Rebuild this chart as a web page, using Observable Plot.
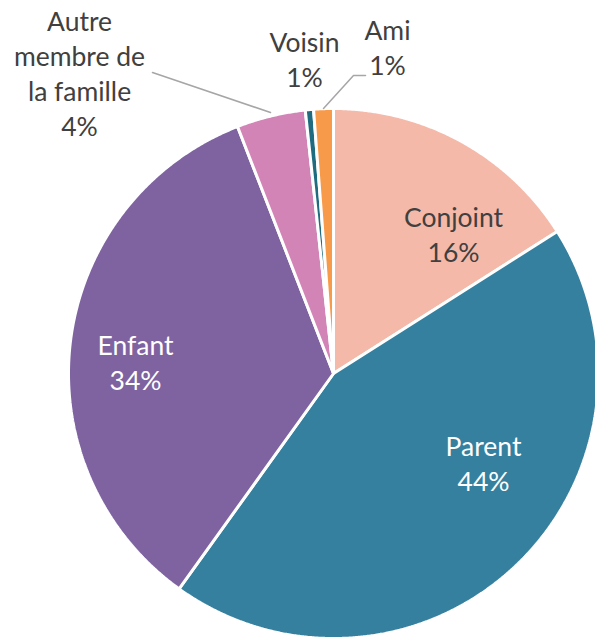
<!DOCTYPE html>
<html><head><meta charset="utf-8">
<script src="https://cdn.jsdelivr.net/npm/d3@7"></script>
<script src="https://cdn.jsdelivr.net/npm/@observablehq/plot@0.6"></script>
<style>html,body{margin:0;padding:0;background:#fff;overflow:hidden}</style>
</head><body><div id="chart"></div>
<script>
// ---- data ----
const categories = ["Conjoint", "Parent", "Enfant", "Autre membre de la famille", "Voisin", "Ami"];
const shares = [16.0, 43.9, 34.2, 4.2, 0.5, 1.2];
const pctLabels = ["16%", "44%", "34%", "4%", "1%", "1%"];
const labelLines = ["Conjoint", "Parent", "Enfant", "Autre\nmembre de\nla famille", "Voisin", "Ami"];

// ---- style / layout ----
const colors = ["#F4B9A9", "#35809F", "#7E63A0", "#D384B6", "#1F6B80", "#F79A4A"];
const textColors = ["#404040", "#ffffff", "#ffffff", "#404040", "#404040", "#404040"];
const W = 595, H = 640, CX = 333, CY = 373, R = 265;
// label block centres in pixels
const labelPos = [[453, 233], [483, 462], [135, 361], [79, 72], [304, 58], [387, 46]];
// leader lines in pixels
const leaders = [
  [[152, 72], [270, 112]],
  [[323, 108], [353, 75], [365, 75]]
];
const toX = px => (px - CX) / R;
const toY = py => (CY - py) / R;

// ---- geometry through d3.pie ----
const arcs = d3.pie().sort(null).value(d => d)(shares);
const pts = [];
arcs.forEach((a, i) => {
  const cat = categories[i];
  pts.push({cat, x: 0, y: 0});
  const n = Math.max(2, Math.ceil((a.endAngle - a.startAngle) / 0.005));
  for (let k = 0; k <= n; k++) {
    const t = a.startAngle + (a.endAngle - a.startAngle) * k / n;
    pts.push({cat, x: Math.sin(t), y: Math.cos(t)});
  }
});

const labels = categories.map((c, i) => ({
  cat: c,
  text: labelLines[i] + "\n" + pctLabels[i],
  x: toX(labelPos[i][0]),
  y: toY(labelPos[i][1]),
  color: textColors[i]
}));

const leaderPts = leaders.flatMap((l, j) => l.map(p => ({id: j, x: toX(p[0]), y: toY(p[1])})));

const chart = Plot.plot({
  width: W, height: H,
  marginTop: 0, marginRight: 0, marginBottom: 0, marginLeft: 0,
  x: {domain: [toX(0), toX(W)], range: [0, W], axis: null},
  y: {domain: [toY(H), toY(0)], range: [H, 0], axis: null},
  color: {domain: categories, range: colors},
  style: {fontFamily: "Lato, 'Open Sans', sans-serif", background: "#fff"},
  marks: [
    Plot.line(pts, {x: "x", y: "y", z: "cat", fill: "cat", stroke: "#ffffff", strokeWidth: 3, curve: "linear-closed", strokeLinejoin: "miter"}),
    Plot.line(leaderPts, {x: "x", y: "y", z: "id", stroke: "#a6a6a6", strokeWidth: 1.5}),
    Plot.text(labels, {x: "x", y: "y", text: "text", fill: "color", fontSize: 26.5, lineHeight: 1.32, textAnchor: "middle", lineAnchor: "middle"})
  ]
});
document.getElementById("chart").appendChild(chart);
</script>
</body></html>
